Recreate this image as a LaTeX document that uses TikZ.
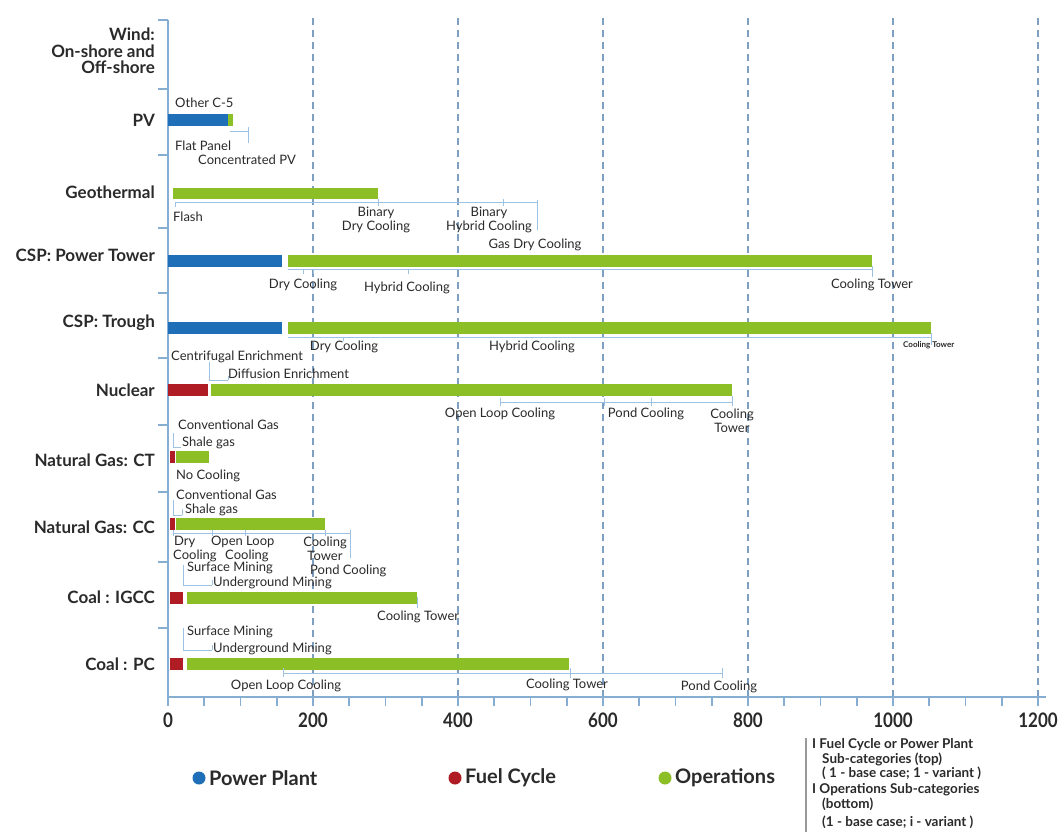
\documentclass[tikz,border=0pt]{standalone}
\usepackage{fontspec}
\setmainfont{Lato}
\newfontfamily\condfont[FakeStretch=0.85]{Lato}
\definecolor{ppcol}{HTML}{1F6EB8}
\definecolor{fccol}{HTML}{B01C24}
\definecolor{opcol}{HTML}{8CBF26}
\definecolor{brkcol}{HTML}{9DC2E3}
\definecolor{axcol}{HTML}{86AED3}
\definecolor{gridcol}{HTML}{7E9FC0}
\definecolor{txtcol}{HTML}{2A2A2A}
\begin{document}
\begin{tikzpicture}[x=1pt,y=-1pt,
  lab/.style={font=\fontsize{13}{14}\selectfont, text=txtcol, inner sep=0pt},
  labw/.style={lab, anchor=west},
  twol/.style={lab, align=center, font=\fontsize{13}{14.5}\selectfont},
  cat/.style={font=\bfseries\fontsize{17}{17}\selectfont, anchor=east, inner sep=0pt, text=txtcol},
  brk/.style={draw=brkcol, line width=1pt},
  axisline/.style={draw=axcol, line width=1.6pt},
  gridline/.style={draw=gridcol, line width=1.3pt, dash pattern=on 7pt off 5pt},
  num/.style={font=\condfont\bfseries\fontsize{20}{20}\selectfont, text=txtcol, inner sep=0pt},
  leg/.style={font=\bfseries\fontsize{20}{20}\selectfont, text=txtcol, inner sep=0pt, anchor=west},
  note/.style={font=\bfseries\fontsize{13.5}{14}\selectfont, text=txtcol, inner sep=0pt, anchor=west}]
\useasboundingbox (0,0) rectangle (1061,832);
\fill[white] (0,0) rectangle (1061,832);

% dashed grid lines
\foreach \v in {200,400,600,800,1000,1200}
  \draw[gridline] ({168+0.725*\v},18) -- ({168+0.725*\v},697);

% y axis with row separators
\draw[axisline] (168,20) -- (168,697);
\foreach \y in {20,89,155,228,293,358,425,492,562,628}
  \draw[axisline] (158,\y) -- (168,\y);

% x axis with ticks
\draw[axisline] (168,697) -- (1046,697);
\foreach \v in {0,50,...,1200}
  \draw[axisline] ({168+0.725*\v},697) -- ({168+0.725*\v},706);
\foreach \v in {0,200,400,600,800,1000,1200}
  \node[num] (n\v) at ({168+0.725*\v},720) {\v};

% category labels
\node[cat, align=right, font=\bfseries\fontsize{17}{16.5}\selectfont] (cwind) at (155,51) {Wind:\\On-shore and\\Off-shore};
\node[cat] (cpv) at (155,120) {PV};
\node[cat] (cgeo) at (155,192) {Geothermal};
\node[cat] (cpt) at (155,255) {CSP: Power Tower};
\node[cat] (ctr) at (155,323) {CSP: Trough};
\node[cat] (cnuc) at (155,390) {Nuclear};
\node[cat] (cct) at (155,460) {Natural Gas: CT};
\node[cat] (ccc) at (155,527) {Natural Gas: CC};
\node[cat] (cig) at (155,597) {Coal : IGCC};
\node[cat] (cpc) at (155,664) {Coal : PC};

% bars
\fill[ppcol] (168,114) rectangle (228,126);
\fill[opcol] (228,114) rectangle (233,126);
\fill[opcol] (173,188) rectangle (378,199);
\fill[ppcol] (168,255) rectangle (282,267);
\fill[opcol] (288,255) rectangle (872,267);
\fill[ppcol] (168,322) rectangle (282,334);
\fill[opcol] (288,322) rectangle (931,334);
\fill[fccol] (168,384) rectangle (208,396);
\fill[opcol] (211,384) rectangle (732,396);
\fill[fccol] (170,451) rectangle (175,463);
\fill[opcol] (176,451) rectangle (209,463);
\fill[fccol] (170,518) rectangle (175,530);
\fill[opcol] (176,518) rectangle (325,530);
\fill[fccol] (170,592) rectangle (183,604);
\fill[opcol] (187,592) rectangle (417,604);
\fill[fccol] (170,658) rectangle (183,670);
\fill[opcol] (187,658) rectangle (569,670);

% ---- PV
\draw[brk] (230,132) -- (248,132) (248,127) -- (248,143);
\node[labw] (pv1) at (175,103) {Other C-5};
\node[labw] (pv2) at (175,146) {Flat Panel};
\node[labw] (pv3) at (198,160) {Concentrated PV};

% ---- Geothermal
\draw[brk] (175,203) -- (537,203);
\draw[brk] (175,203) -- (175,207) (378,199) -- (378,206) (503,199) -- (503,206) (537,200) -- (537,230);
\node[labw] (g1) at (173,217) {Flash};
\node[twol] (g2) at (376,220) {Binary\\Dry Cooling};
\node[twol] (g3) at (489,220) {Binary\\Hybrid Cooling};
\node[lab] (g4) at (535,245) {Gas Dry Cooling};

% ---- CSP power tower
\draw[brk] (288,269) -- (872,269);
\draw[brk] (303,269) -- (303,274) (313,269) -- (313,274) (408,269) -- (408,274) (872,266) -- (872,277);
\node[lab] (t1) at (303,285) {Dry Cooling};
\node[lab] (t2) at (407,288) {Hybrid Cooling};
\node[lab] (t3) at (872,285) {Cooling Tower};

% ---- CSP trough
\draw[brk] (288,337) -- (931,337);
\draw[brk] (343,337) -- (343,341) (931,333) -- (931,345);
\node[lab] (r1) at (344,347) {Dry Cooling};
\node[lab] (r2) at (532,347) {Hybrid Cooling};
\node[labw, font=\bfseries\fontsize{8}{8}\selectfont] (r3) at (903,345) {Cooling Tower};

% ---- Nuclear
\draw[brk] (209,362) -- (209,380) -- (228,380) (228,376) -- (228,380);
\node[labw] (u1) at (171,357) {Centrifugal Enrichment};
\node[labw] (u2) at (228,374) {Diffusion Enrichment};
\draw[brk] (500,402) -- (732,402);
\draw[brk] (500,398) -- (500,406) (604,398) -- (604,406) (651,398) -- (651,406) (732,396) -- (732,406);
\node[lab] (u3) at (500,414) {Open Loop Cooling};
\node[lab] (u4) at (646,414) {Pond Cooling};
\node[twol] (u5) at (732,421) {Cooling\\Tower};

% ---- Natural gas CT
\draw[brk] (173,433) -- (173,447) -- (181,447);
\node[labw] (ct1) at (178,425) {Conventional Gas};
\node[labw] (ct2) at (182,443) {Shale gas};
\node[labw] (ct3) at (176,476) {No Cooling};

% ---- Natural gas CC
\draw[brk] (173,500) -- (173,515) -- (182,515) (182,509) -- (182,515);
\node[labw] (cc1) at (176,495) {Conventional Gas};
\node[labw] (cc2) at (185,510) {Shale gas};
\draw[brk] (173,533) -- (350,533);
\draw[brk] (173,530) -- (173,536) (212,530) -- (212,536) (245,530) -- (245,536) (325,530) -- (325,536) (350,530) -- (350,558);
\node[labw] (cc3) at (174,542) {Dry};
\node[labw] (cc4) at (211,542) {Open Loop};
\node[labw] (cc3b) at (173,556) {Cooling};
\node[labw] (cc4b) at (225,556) {Cooling};
\node[twol] (cc5) at (325,549) {Cooling\\Tower};
\node[labw] (cc6) at (310,571) {Pond Cooling};

% ---- Coal IGCC
\draw[brk] (183,565) -- (183,585) -- (212,585) (212,580) -- (212,585);
\node[labw] (ig1) at (187,568) {Surface Mining};
\node[labw] (ig2) at (213,583) {Underground Mining};
\draw[brk] (417,597) -- (417,608);
\node[labw] (ig3) at (377,617) {Cooling Tower};

% ---- Coal PC
\draw[brk] (183,628) -- (183,650) -- (212,650) (212,645) -- (212,650);
\node[labw] (pc1) at (187,632) {Surface Mining};
\node[labw] (pc2) at (213,649) {Underground Mining};
\draw[brk] (283,673) -- (722,673);
\draw[brk] (283,668) -- (283,677) (570,668) -- (570,678) (722,668) -- (722,678);
\node[lab] (pc3) at (286,686) {Open Loop Cooling};
\node[lab] (pc4) at (567,685) {Cooling Tower};
\node[lab] (pc5) at (719,687) {Pond Cooling};

% ---- legend
\fill[ppcol] (199,778) circle (6.5);
\node[leg] (l1) at (209,778) {Power Plant};
\fill[fccol] (455,778) circle (6.5);
\node[leg] (l2) at (465,778) {Fuel Cycle};
\fill[opcol] (665,778) circle (6.5);
\node[leg] (l3) at (675,778) {Operations};
\draw[draw=gray!80, line width=1.2pt] (806,738) -- (806,832);
\node[note] (nt1) at (812,745) {I Fuel Cycle or Power Plant};
\node[note] (nt2) at (822,759) {Sub-categories (top)};
\node[note] (nt3) at (822,773) {( 1 - base case; 1 - variant )};
\node[note] (nt4) at (812,790) {I Operations Sub-categories};
\node[note] (nt5) at (822,804) {(bottom)};
\node[note] (nt6) at (822,822) {(1 - base case; i - variant )};
\end{tikzpicture}
\end{document}
